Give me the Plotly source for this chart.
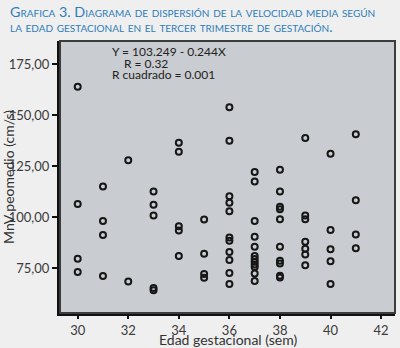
import plotly.graph_objects as go

# Data: MnV values per gestational week
weeks = [30, 31, 32, 33, 34, 35, 36, 37, 38, 39, 40, 41]
mnv_by_week = [
    [163.9, 106.5, 79.7, 73.2],
    [115.0, 98.2, 91.3, 71.2],
    [127.9, 68.5],
    [112.6, 106.1, 100.9, 65.4, 64.2],
    [136.5, 132.1, 95.6, 93.5, 81.0],
    [98.9, 82.1, 72.2, 70.4],
    [153.8, 137.4, 110.3, 107.1, 102.9, 90.1, 88.5, 83.0, 79.1, 72.7, 67.3],
    [122.2, 117.5, 98.1, 90.5, 85.5, 81.0, 79.6, 78.2, 76.9, 75.6, 72.5, 68.8],
    [123.3, 112.6, 105.1, 103.9, 99.0, 85.5, 78.7, 77.4, 71.4, 70.5],
    [138.8, 100.9, 99.0, 88.0, 84.6, 81.8, 76.5],
    [131.1, 93.7, 84.3, 78.5, 67.3],
    [140.6, 108.3, 91.5, 84.8],
]
y_tick_vals = [75, 100, 125, 150, 175]
y_tick_text = ["75,00", "100,00", "125,00", "150,00", "175,00"]
x_tick_vals = [30, 32, 34, 36, 38, 40, 42]

title_line1 = "Grafica 3. Diagrama de dispersión de la velocidad media según"
title_line2 = "la edad gestacional en el tercer trimestre de gestación."
eq_lines = ["Y = 103.249 - 0.244X", "R = 0.32", "R cuadrado = 0.001"]
x_title = "Edad gestacional (sem)"
y_title = "MnV peomedio (cm/s)"

xs, ys = [], []
for w, vals in zip(weeks, mnv_by_week):
    xs += [w] * len(vals)
    ys += vals

FONT = "Lato, Open Sans, sans-serif"
PW, PH = 335, 272  # plot area size in px

fig = go.Figure()
fig.add_trace(go.Scatter(
    x=xs, y=ys, mode="markers",
    marker=dict(symbol="circle-open", size=6, color="#161616",
                line=dict(width=2, color="#161616")),
    hoverinfo="x+y", showlegend=False,
))

fig.update_layout(
    width=400, height=348,
    margin=dict(l=60, r=5, t=41, b=35),
    paper_bgcolor="#efefef",
    plot_bgcolor="#c9ccd0",
    font=dict(family=FONT, size=13, color="#3a3a3a"),
    xaxis=dict(
        range=[29.3, 42.55], tickvals=x_tick_vals, automargin=False,
        ticks="outside", ticklen=3, tickwidth=2, tickcolor="#111",
        showline=True, linecolor="#111", linewidth=3,
        showgrid=False, zeroline=False,
        tickfont=dict(size=13, color="#3a3a3a"),
    ),
    yaxis=dict(
        range=[53.1, 186.3], tickvals=y_tick_vals, ticktext=y_tick_text,
        automargin=False,
        ticks="outside", ticklen=5, tickwidth=2, tickcolor="#111",
        showline=True, linecolor="#111", linewidth=3,
        showgrid=False, zeroline=False,
        tickfont=dict(size=13, color="#3a3a3a"),
    ),
    shapes=[dict(type="rect", xref="paper", yref="paper", x0=0, x1=1, y0=0, y1=1,
                 line=dict(color="#3c3c3c", width=2), layer="above")],
)

# axis titles as annotations
axis_font = dict(family=FONT, size=14, color="#333")
fig.add_annotation(text=x_title, xref="paper", yref="paper",
                   x=0.5, y=-(339 - 313) / PH, xanchor="center", yanchor="middle",
                   showarrow=False, font=axis_font)
fig.add_annotation(text=y_title, xref="paper", yref="paper", textangle=-90,
                   x=-(60 - 8) / PW, y=0.5, xanchor="center", yanchor="middle",
                   showarrow=False, font=axis_font)

title_font = dict(family=FONT, size=14.3, color="#2e7db8", variant="small-caps")
fig.add_annotation(text=title_line1, xref="paper", yref="paper",
                   x=-52 / PW, y=1 + 29 / PH, xanchor="left", yanchor="middle",
                   showarrow=False, font=title_font)
fig.add_annotation(text=title_line2, xref="paper", yref="paper",
                   x=-52 / PW, y=1 + 14 / PH, xanchor="left", yanchor="middle",
                   showarrow=False, font=title_font)

eq_font = dict(family=FONT, size=12, color="#222")
eq_x = [(110 - 60) / PW, (122 - 60) / PW, (110 - 60) / PW]
eq_y = [52, 63, 74]
for t, xp, yp in zip(eq_lines, eq_x, eq_y):
    fig.add_annotation(text=t, xref="paper", yref="paper",
                       x=xp, y=(313 - yp) / PH, xanchor="left", yanchor="middle",
                       showarrow=False, font=eq_font)

fig.write_html("out.html", config={"displayModeBar": False},
               post_script="document.body.style.margin='0';document.body.style.background='#efefef';")
